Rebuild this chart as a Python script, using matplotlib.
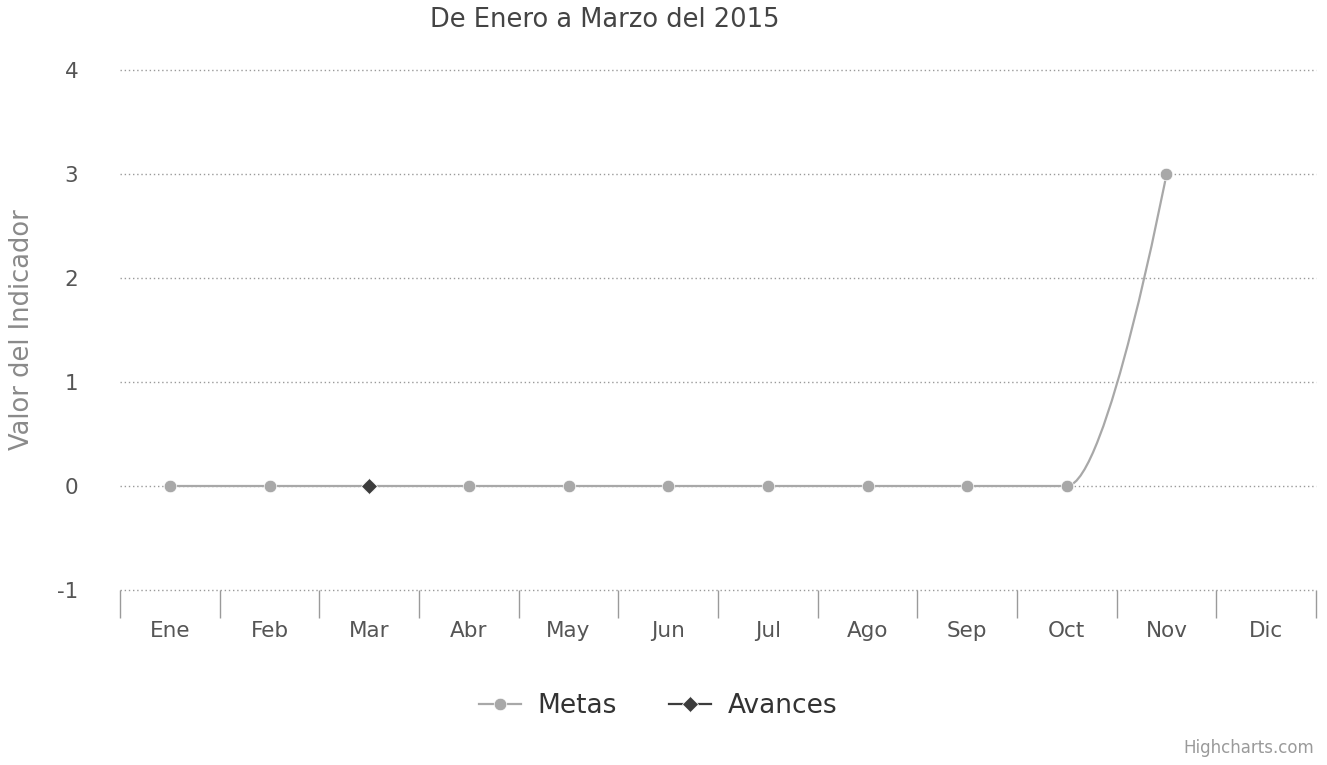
import matplotlib
matplotlib.use("Agg")
import matplotlib.pyplot as plt
from matplotlib.path import Path
from matplotlib.patches import PathPatch
from matplotlib.lines import Line2D
import numpy as np

# Data
months = ["Ene", "Feb", "Mar", "Abr", "May", "Jun",
          "Jul", "Ago", "Sep", "Oct", "Nov", "Dic"]
metas = [0, 0, 0, 0, 0, 0, 0, 0, 0, 0, 3, None]
avances = [None, None, 0, None, None, None, None, None, None, None, None, None]
y_ticks = [-1, 0, 1, 2, 3, 4]

METAS_COLOR = "#a8a8a8"
AVANCES_COLOR = "#3c3c3c"
GRID_COLOR = "#9a9a9a"
TEXT_COLOR = "#555555"


def spline_path(xs, ys, smoothing=1.5):
    """Highcharts-style spline through the points, as a matplotlib Path."""
    denom = smoothing + 1
    n = len(xs)
    left = [None] * n
    right = [None] * n
    for i in range(1, n - 1):
        x, y = xs[i], ys[i]
        px, py = xs[i - 1], ys[i - 1]
        nx, ny = xs[i + 1], ys[i + 1]
        lcx, lcy = (smoothing * x + px) / denom, (smoothing * y + py) / denom
        rcx, rcy = (smoothing * x + nx) / denom, (smoothing * y + ny) / denom
        corr = ((rcy - lcy) * (rcx - x)) / (rcx - lcx) + y - rcy
        lcy += corr
        rcy += corr
        if lcy > py and lcy > y:
            lcy = max(py, y); rcy = 2 * y - lcy
        elif lcy < py and lcy < y:
            lcy = min(py, y); rcy = 2 * y - lcy
        if rcy > ny and rcy > y:
            rcy = max(ny, y); lcy = 2 * y - rcy
        elif rcy < ny and rcy < y:
            rcy = min(ny, y); lcy = 2 * y - rcy
        left[i] = (lcx, lcy)
        right[i] = (rcx, rcy)
    verts = [(xs[0], ys[0])]
    codes = [Path.MOVETO]
    for i in range(n - 1):
        c1 = right[i] or (xs[i], ys[i])
        c2 = left[i + 1] or (xs[i + 1], ys[i + 1])
        verts += [c1, c2, (xs[i + 1], ys[i + 1])]
        codes += [Path.CURVE4] * 3
    return Path(verts, codes)


fig = plt.figure(figsize=(13.27, 7.65), dpi=100)
ax = fig.add_axes([120 / 1327, 175 / 765, 1196 / 1327, 520 / 765])

ax.set_xlim(-0.5, len(months) - 0.5)
ax.set_ylim(-1, 4)

# grid lines (dotted look of the reference)
for yv in y_ticks:
    ax.axhline(yv, color=GRID_COLOR, lw=1.0, ls=(0, (1, 2)), zorder=1,
               clip_on=False)

# Metas series
mx = [i for i, v in enumerate(metas) if v is not None]
my = [v for v in metas if v is not None]
ax.add_patch(PathPatch(spline_path(mx, my), fill=False, edgecolor=METAS_COLOR,
                       lw=1.6, zorder=3))
ax.plot(mx, my, ls="none", marker="o", ms=9, color=METAS_COLOR,
        mec="white", mew=0.5, zorder=4)

# Avances series
ax_x = [i for i, v in enumerate(avances) if v is not None]
ax_y = [v for v in avances if v is not None]
ax.plot(ax_x, ax_y, color=AVANCES_COLOR, lw=1.6, marker="D", ms=8,
        mec="white", mew=0.5, zorder=5)

for s in ax.spines.values():
    s.set_visible(False)

ax.set_yticks(y_ticks)
ax.set_yticklabels([str(v) for v in y_ticks])
ax.set_xticks(range(len(months)))
ax.set_xticklabels(months)
ax.set_xticks(np.arange(-0.5, len(months), 1), minor=True)
ax.tick_params(axis="x", which="major", length=0, pad=22,
               labelsize=15.5, labelcolor=TEXT_COLOR)
ax.tick_params(axis="x", which="minor", length=20, width=1.0,
               color=GRID_COLOR, direction="out")
ax.tick_params(axis="y", length=0, pad=30, labelsize=15.5,
               labelcolor=TEXT_COLOR)

ax.set_ylabel("Valor del Indicador", fontsize=18.5, color="#8a8a8a",
              va="center")
ax.yaxis.set_label_coords(-98 / 1196, 0.5)

fig.text(605 / 1327, 1 - 20 / 765, "De Enero a Marzo del 2015",
         fontsize=18.5, color="#444444", ha="center", va="center")

handles = [
    Line2D([], [], color=METAS_COLOR, lw=1.6, marker="o", ms=9, mec="white", mew=0.5),
    Line2D([], [], color=AVANCES_COLOR, lw=1.6, marker="D", ms=8, mec="white", mew=0.5),
]
fig.legend(handles, ["Metas", "Avances"], loc="center",
           bbox_to_anchor=(658 / 1327, 1 - 706 / 765), ncol=2, frameon=False,
           fontsize=19, handlelength=1.6, columnspacing=2.0, handletextpad=0.6,
           labelcolor="#333333")

fig.text(1314 / 1327, 1 - 748 / 765, "Highcharts.com", fontsize=12,
         color="#9a9a9a", ha="right", va="center")

fig.savefig("out.png", dpi=100)
